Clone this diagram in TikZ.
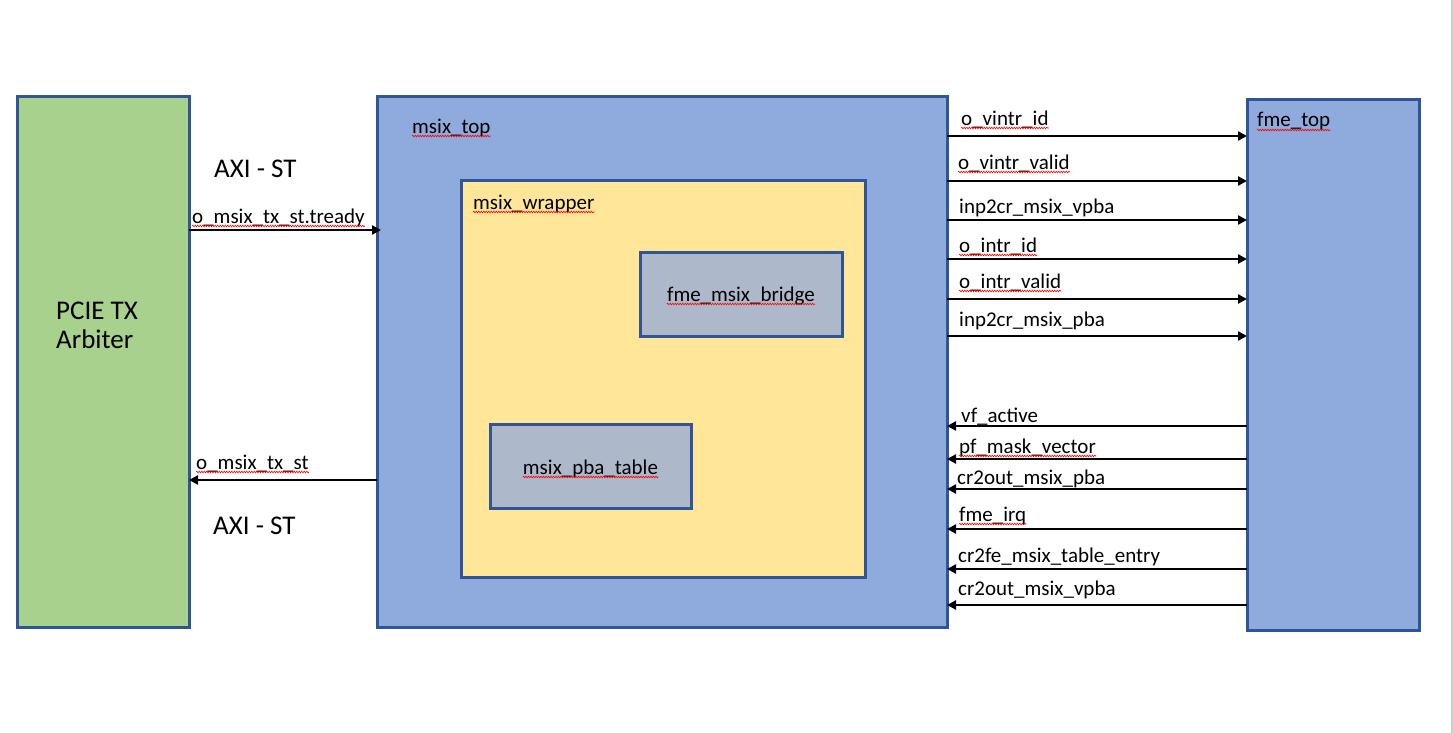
\documentclass[tikz,border=0pt]{standalone}
\usepackage{fontspec}
\setmainfont{Carlito}
\usetikzlibrary{arrows.meta,decorations.pathmorphing}
\definecolor{bord}{HTML}{2F5597}
\definecolor{gfill}{HTML}{A9D18E}
\definecolor{bfill}{HTML}{8FAADC}
\definecolor{yfill}{HTML}{FFE699}
\definecolor{gyfill}{HTML}{ADB9CA}
\begin{document}
\begin{tikzpicture}[x=1pt,y=-1pt,
  blk/.style={draw=bord,line width=3pt,anchor=north west,inner sep=0pt,outer sep=0pt},
  lbl/.style={anchor=base west,inner sep=0pt,yshift=-2pt,font=\fontsize{21}{25}\selectfont},
  big/.style={anchor=base west,inner sep=0pt,yshift=-1pt,font=\fontsize{27}{31}\selectfont},
  sig/.style={line width=2.2pt,-{Triangle[length=9pt,width=9pt]}},
  sq/.style={red,line width=0.6pt,decorate,decoration={snake,amplitude=0.8pt,segment length=2.5pt}}]
\useasboundingbox[fill=white] (0,0) rectangle (1453,733);
\draw[gray!40,line width=2pt] (1452,0) -- (1452,733);
% blocks
\node[blk,fill=gfill,minimum width=172pt,minimum height=530pt] (pcie) at (17,97) {};
\node[blk,fill=bfill,minimum width=570pt,minimum height=530pt] (mtop) at (377,97) {};
\node[blk,fill=yfill,minimum width=404pt,minimum height=397pt] (wrap) at (461,180) {};
\node[blk,fill=gyfill,minimum width=202pt,minimum height=84pt] (bridge) at (640,252) {};
\node[blk,fill=gyfill,minimum width=201pt,minimum height=84pt] (pba) at (490,424) {};
\node[blk,fill=bfill,minimum width=172pt,minimum height=530pt] (fme) at (1247,100) {};
% block labels
\node[big,align=left,anchor=base west] (pcietxt) at (56,347) {PCIE TX\\[-2pt]Arbiter};
\node[lbl] (tmtop) at (412,131) {msix\_top};
\node[lbl] (twrap) at (473,207) {msix\_wrapper};
\node[lbl,anchor=base] (tbridge) at (741,299) {fme\_msix\_bridge};
\node[lbl,anchor=base] (tpba) at (590.5,472) {msix\_pba\_table};
\node[lbl] (tfme) at (1257,125) {fme\_top};
% left side
\node[big] (axi1) at (214,176) {AXI - ST};
\node[big] (axi2) at (213,533) {AXI - ST};
\node[lbl] (ltready) at (192,221) {o\_msix\_tx\_st.tready};
\node[lbl] (ltxst) at (196,467) {o\_msix\_tx\_st};
\draw[sig] (pcie.east |- 0,230) -- ([xshift=4pt]mtop.west |- 0,230);
\draw[sig] (mtop.west |- 0,480) -- (pcie.east |- 0,480);
% right side outgoing
\node[lbl] (s1) at (961,123) {o\_vintr\_id};
\node[lbl] (s2) at (958,167) {o\_vintr\_valid};
\node[lbl] (s3) at (959,211) {inp2cr\_msix\_vpba};
\node[lbl] (s4) at (959,250) {o\_intr\_id};
\node[lbl] (s5) at (959,286) {o\_intr\_valid};
\node[lbl] (s6) at (959,324) {inp2cr\_msix\_pba};
\foreach \y in {136,181,220,259,299,336}
  \draw[sig] (mtop.east |- 0,\y) -- (fme.west |- 0,\y);
% right side incoming
\node[lbl] (r1) at (961,420) {vf\_active};
\node[lbl] (r2) at (959,451) {pf\_mask\_vector};
\node[lbl] (r3) at (957,482) {cr2out\_msix\_pba};
\node[lbl] (r4) at (959,519) {fme\_irq};
\node[lbl] (r5) at (958,560) {cr2fe\_msix\_table\_entry};
\node[lbl] (r6) at (958,593) {cr2out\_msix\_vpba};
\foreach \y in {426,459,489,529,569,605}
  \draw[sig] (fme.west |- 0,\y) -- (mtop.east |- 0,\y);
% spell-check squiggles
\foreach \n in {tmtop,twrap,tbridge,tpba,tfme,ltready,ltxst,s1,s2,s4,s5,r2,r4}
  \draw[sq] ([yshift=-3pt]\n.base west) -- ([yshift=-3pt]\n.base east);
\end{tikzpicture}
\end{document}
